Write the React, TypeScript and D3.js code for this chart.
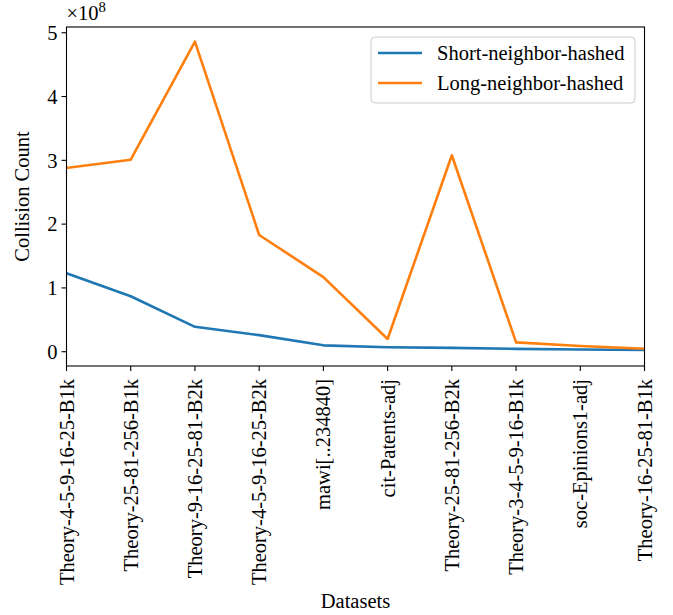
import React from "react";
import * as d3 from "d3";

const categories = [
  "Theory-4-5-9-16-25-B1k",
  "Theory-25-81-256-B1k",
  "Theory-9-16-25-81-B2k",
  "Theory-4-5-9-16-25-B2k",
  "mawi[..234840]",
  "cit-Patents-adj",
  "Theory-25-81-256-B2k",
  "Theory-3-4-5-9-16-B1k",
  "soc-Epinions1-adj",
  "Theory-16-25-81-B1k",
];
const shortVals = [1.23, 0.87, 0.39, 0.26, 0.1, 0.07, 0.06, 0.045, 0.035, 0.027];
const longVals = [2.88, 3.01, 4.86, 1.83, 1.17, 0.2, 3.08, 0.147, 0.09, 0.047];
const yTicks = [0, 1, 2, 3, 4, 5];
const seriesNames = ["Short-neighbor-hashed", "Long-neighbor-hashed"];
const colors = ["#1f77b4", "#ff7f0e"];

const W = 673, H = 615;
const L = 66.5, R = 644.5, T = 27, B = 366;
const FONT = "'Liberation Serif', 'DejaVu Serif', serif";

export default function App() {
  const x = d3.scaleLinear().domain([0, categories.length - 1]).range([L, R]);
  const y = d3.scaleLinear().domain([-0.224, 5.09]).range([B, T]);
  const line = d3.line<number>().x((_, i) => x(i)).y((d) => y(d));
  const series = [shortVals, longVals];
  const fs = 20.5;
  return (
    <svg width={W} height={H} style={{ position: "absolute", left: 0, top: 0 }} fontFamily={FONT}>
      <rect x={0} y={0} width={W} height={H} fill="#fff" />
      <defs>
        <clipPath id="clip">
          <rect x={L} y={T} width={R - L} height={B - T} />
        </clipPath>
      </defs>
      <g clipPath="url(#clip)">
        {series.map((s, k) => (
          <path key={k} d={line(s) || ""} fill="none" stroke={colors[k]} strokeWidth={2.6} strokeLinejoin="round" strokeLinecap="square" />
        ))}
      </g>
      <rect x={L} y={T} width={R - L} height={B - T} fill="none" stroke="#000" strokeWidth={1.1} />
      {yTicks.map((t) => (
        <g key={t}>
          <line x1={L - 5} x2={L} y1={y(t)} y2={y(t)} stroke="#000" strokeWidth={1.1} />
          <text x={L - 9} y={y(t)} dy="0.35em" textAnchor="end" fontSize={fs}>{t}</text>
        </g>
      ))}
      <text x={L} y={20} fontSize={fs}>×10<tspan dy={-8} fontSize={fs * 0.72}>8</tspan></text>
      {categories.map((c, i) => (
        <g key={c}>
          <line x1={x(i)} x2={x(i)} y1={B} y2={B + 5} stroke="#000" strokeWidth={1.1} />
          <text transform={`translate(${x(i) + 7},${B + 13}) rotate(-90)`} textAnchor="end" fontSize={fs}>{c}</text>
        </g>
      ))}
      <text x={(L + R) / 2} y={608} textAnchor="middle" fontSize={fs}>Datasets</text>
      <text transform={`translate(29,${(T + B) / 2}) rotate(-90)`} textAnchor="middle" fontSize={fs}>Collision Count</text>
      <g>
        <rect x={371} y={37} width={264} height={66} rx={4} fill="#fff" fillOpacity={0.8} stroke="#ccc" strokeWidth={1} />
        {seriesNames.map((n, k) => (
          <g key={n}>
            <line x1={378} x2={422} y1={53 + k * 30} y2={53 + k * 30} stroke={colors[k]} strokeWidth={2.6} />
            <text x={437} y={53 + k * 30} dy="0.35em" fontSize={fs}>{n}</text>
          </g>
        ))}
      </g>
    </svg>
  );
}
